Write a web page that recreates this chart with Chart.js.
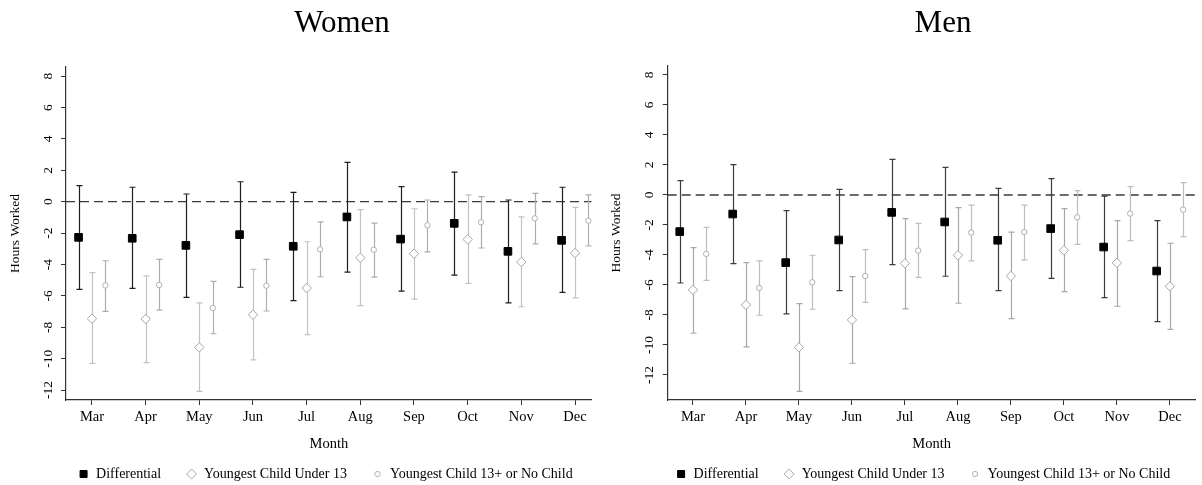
<!DOCTYPE html>
<html>
<head>
<meta charset="utf-8">
<script src="https://cdn.jsdelivr.net/npm/chart.js@4.4.1/dist/chart.umd.min.js"></script>
<style>
  html, body { margin: 0; padding: 0; background: #fff; overflow: hidden; }
  body { width: 1202px; height: 485px; position: relative; }
  canvas { position: absolute; top: 0; }
  .ttl { position: absolute; top: 6px; width: 300px; text-align: center;
         font: 31px/1 "Liberation Serif", "Times New Roman", serif; color: #000; }
</style>
</head>
<body>
<canvas id="womenChart" width="601" height="491" style="left:0"></canvas>
<canvas id="menChart" width="601" height="491" style="left:601px"></canvas>
<div class="ttl" style="left:192px">Women</div>
<div class="ttl" style="left:793px">Men</div>
<script>
var months = ["Mar", "Apr", "May", "Jun", "Jul", "Aug", "Sep", "Oct", "Nov", "Dec"];
var yTicks = [-12, -10, -8, -6, -4, -2, 0, 2, 4, 6, 8];
var seriesNames = ["Differential", "Youngest Child Under 13", "Youngest Child 13+ or No Child"];
var zeroLine = 0;

// women: point estimate, lower and upper bound of the interval
var womenDiff = [-2.27, -2.33, -2.78, -2.10, -2.84, -0.97, -2.38, -1.38, -3.16, -2.46];
var womenDiffLo = [-5.58, -5.52, -6.09, -5.45, -6.30, -4.48, -5.69, -4.67, -6.45, -5.77];
var womenDiffHi = [1.02, 0.92, 0.49, 1.27, 0.60, 2.51, 0.96, 1.89, 0.11, 0.92];
var womenYoung = [-7.45, -7.47, -9.28, -7.20, -5.50, -3.57, -3.31, -2.40, -3.84, -3.27];
var womenYoungLo = [-10.30, -10.25, -12.08, -10.08, -8.47, -6.62, -6.20, -5.20, -6.69, -6.13];
var womenYoungHi = [-4.52, -4.73, -6.45, -4.31, -2.55, -0.51, -0.45, 0.43, -0.97, -0.36];
var womenOld = [-5.33, -5.31, -6.77, -5.35, -3.03, -3.06, -1.50, -1.31, -1.06, -1.21];
var womenOldLo = [-6.98, -6.90, -8.41, -6.96, -4.78, -4.80, -3.20, -2.95, -2.69, -2.82];
var womenOldHi = [-3.76, -3.67, -5.07, -3.67, -1.29, -1.36, 0.11, 0.32, 0.53, 0.43];

// men
var menDiff = [-2.44, -1.27, -4.51, -3.00, -1.16, -1.80, -3.02, -2.24, -3.47, -5.07];
var menDiffLo = [-5.87, -4.58, -7.93, -6.38, -4.64, -5.42, -6.38, -5.56, -6.84, -8.44];
var menDiffHi = [0.96, 2.02, -1.04, 0.38, 2.38, 1.84, 0.44, 1.09, -0.07, -1.71];
var menYoung = [-6.33, -7.33, -10.16, -8.33, -4.56, -4.02, -5.40, -3.69, -4.53, -6.09];
var menYoungLo = [-9.22, -10.13, -13.09, -11.22, -7.60, -7.22, -8.24, -6.44, -7.42, -8.96];
var menYoungHi = [-3.51, -4.51, -7.24, -5.44, -1.58, -0.84, -2.47, -0.91, -1.71, -3.22];
var menOld = [-3.93, -6.20, -5.82, -5.40, -3.71, -2.51, -2.47, -1.49, -1.24, -0.98];
var menOldLo = [-5.69, -8.02, -7.62, -7.16, -5.49, -4.40, -4.33, -3.29, -3.04, -2.78];
var menOldHi = [-2.16, -4.40, -4.02, -3.64, -1.89, -0.67, -0.67, 0.29, 0.56, 0.82];

var serif = "'Liberation Serif', 'Times New Roman', serif";
var axisColor = "#333";
var shifts = [-0.25, 0, 0.25]; // side by side within a month

function toPoints(values, shift) {
  var pts = [];
  for (var i = 0; i < values.length; i++) {
    pts.push({ x: i + shift, y: values[i] });
  }
  return pts;
}

// whiskers with caps, drawn right after the dashed line so the markers sit on top
function makeWhiskers(bars) {
  return {
    id: "whiskers",
    afterDatasetDraw: function (chart, args) {
      if (args.index !== 3) return;
      var ctx = chart.ctx;
      var xs = chart.scales.x;
      var ys = chart.scales.y;
      ctx.save();
      ctx.lineWidth = 1.2;
      bars.forEach(function (bar) {
        ctx.strokeStyle = bar.color;
        for (var i = 0; i < bar.low.length; i++) {
          var x = Math.round(xs.getPixelForValue(i + bar.shift)) + 0.5;
          var y1 = ys.getPixelForValue(bar.low[i]);
          var y2 = ys.getPixelForValue(bar.high[i]);
          ctx.beginPath();
          ctx.moveTo(x, y1);
          ctx.lineTo(x, y2);
          ctx.moveTo(x - 3, y1);
          ctx.lineTo(x + 3, y1);
          ctx.moveTo(x - 3, y2);
          ctx.lineTo(x + 3, y2);
          ctx.stroke();
        }
      });
      ctx.restore();
    },
  };
}

function smallCircle(color) {
  var c = document.createElement("canvas");
  c.width = 8;
  c.height = 8;
  var g = c.getContext("2d");
  g.beginPath();
  g.arc(4, 4, 2.6, 0, Math.PI * 2);
  g.fillStyle = "#fff";
  g.fill();
  g.strokeStyle = color;
  g.lineWidth = 1;
  g.stroke();
  return c;
}

function drawPanel(id, p) {
  var ctx = document.getElementById(id).getContext("2d");
  var circleBorder = "#b0b0b0";

  var dataset = [
    {
      label: seriesNames[0],
      data: toPoints(p.diff, shifts[0]),
      pointStyle: "rect",
      pointRadius: 5.4,
      backgroundColor: "#000",
      borderColor: "#000",
      borderWidth: 1,
    },
    {
      label: seriesNames[1],
      data: toPoints(p.young, shifts[1]),
      pointStyle: "rectRot",
      pointRadius: 4.7,
      backgroundColor: "#fff",
      borderColor: "#a6a6a6",
      borderWidth: 1,
    },
    {
      label: seriesNames[2],
      data: toPoints(p.old, shifts[2]),
      pointStyle: "circle",
      pointRadius: 2.7,
      backgroundColor: "#fff",
      borderColor: circleBorder,
      borderWidth: 1,
    },
    {
      label: "zero",
      data: [
        { x: p.xMin, y: zeroLine },
        { x: p.xMax, y: zeroLine },
      ],
      showLine: true,
      pointRadius: 0,
      borderColor: "#3a3a3a",
      borderWidth: 1.3,
      borderDash: [9, 5],
    },
  ];

  var bars = [
    { shift: shifts[0], low: p.diffLo, high: p.diffHi, color: p.colors[0] },
    { shift: shifts[1], low: p.youngLo, high: p.youngHi, color: p.colors[1] },
    { shift: shifts[2], low: p.oldLo, high: p.oldHi, color: p.colors[2] },
  ];

  new Chart(ctx, {
    type: "scatter",
    data: { datasets: dataset },
    plugins: [makeWhiskers(bars)],
    options: {
      responsive: false,
      animation: false,
      events: [],
      layout: {
        padding: { top: p.padTop, right: p.padRight, bottom: 0, left: 0 },
      },
      scales: {
        x: {
          type: "linear",
          min: p.xMin,
          max: p.xMax,
          afterBuildTicks: function (scale) {
            scale.ticks = months.map(function (m, i) {
              return { value: i };
            });
          },
          afterFit: function (scale) {
            scale.height = 59.5; // keeps the plot bottom at y=400
          },
          ticks: {
            autoSkip: false,
            maxRotation: 0,
            padding: 3,
            color: "#000",
            font: { family: serif, size: 14.5 },
            callback: function (v, i) {
              return months[i];
            },
          },
          grid: { display: true, drawOnChartArea: false, drawTicks: true, tickLength: 5, color: axisColor },
          border: { display: true, color: axisColor, width: 1.2 },
          title: {
            display: true,
            text: "Month",
            color: "#000",
            font: { family: serif, size: 14.5 },
            padding: { top: 0, bottom: 6.7 },
          },
        },
        y: {
          type: "linear",
          min: p.yMin,
          max: p.yMax,
          afterBuildTicks: function (scale) {
            scale.ticks = yTicks.map(function (v) {
              return { value: v };
            });
          },
          afterFit: function (scale) {
            scale.width = p.yWidth;
          },
          ticks: {
            minRotation: 90,
            maxRotation: 90,
            crossAlign: "center",
            padding: 4,
            color: "#000",
            font: { family: serif, size: 13.5 },
            callback: function (v) {
              return String(v);
            },
          },
          grid: { display: true, drawOnChartArea: false, drawTicks: true, tickLength: 5, color: axisColor },
          border: { display: true, color: axisColor, width: 1.2 },
          title: {
            display: true,
            text: "Hours Worked",
            color: "#000",
            font: { family: serif, size: 13.5 },
            padding: { top: 7, bottom: 0 },
          },
        },
      },
      plugins: {
        tooltip: { enabled: false },
        legend: {
          position: "bottom",
          fullSize: false,
          labels: {
            usePointStyle: true,
            boxWidth: 11,
            boxHeight: 7,
            padding: 7.5,
            color: "#000",
            font: { family: serif, size: 14 },
            generateLabels: function (chart) {
              var items = Chart.defaults.plugins.legend.labels.generateLabels(chart);
              items = items.filter(function (it) {
                return it.datasetIndex !== 3;
              });
              // wider gaps between the keys, same as the original
              items[0].text += "     ";
              items[1].text += "     ";
              items[2].text += p.legendTail;
              items[2].pointStyle = smallCircle(circleBorder);
              return items;
            },
          },
        },
      },
    },
  });
}

drawPanel("womenChart", {
  diff: womenDiff, diffLo: womenDiffLo, diffHi: womenDiffHi,
  young: womenYoung, youngLo: womenYoungLo, youngHi: womenYoungHi,
  old: womenOld, oldLo: womenOldLo, oldHi: womenOldHi,
  xMin: -0.484, xMax: 9.311, yMin: -12.63, yMax: 8.58,
  yWidth: 66, padTop: 67, padRight: 9.3, legendTail: "  ",
  colors: ["#1e1e1e", "#c2c2c2", "#adadad"],
});

drawPanel("menChart", {
  diff: menDiff, diffLo: menDiffLo, diffHi: menDiffHi,
  young: menYoung, youngLo: menYoungLo, youngHi: menYoungHi,
  old: menOld, oldLo: menOldLo, oldHi: menOldHi,
  xMin: -0.477, xMax: 9.485, yMin: -13.67, yMax: 8.6,
  yWidth: 66.7, padTop: 66, padRight: 0, legendTail: "     ",
  colors: ["#3c3c3c", "#a8a8a8", "#bdbdbd"],
});
</script>
</body>
</html>
